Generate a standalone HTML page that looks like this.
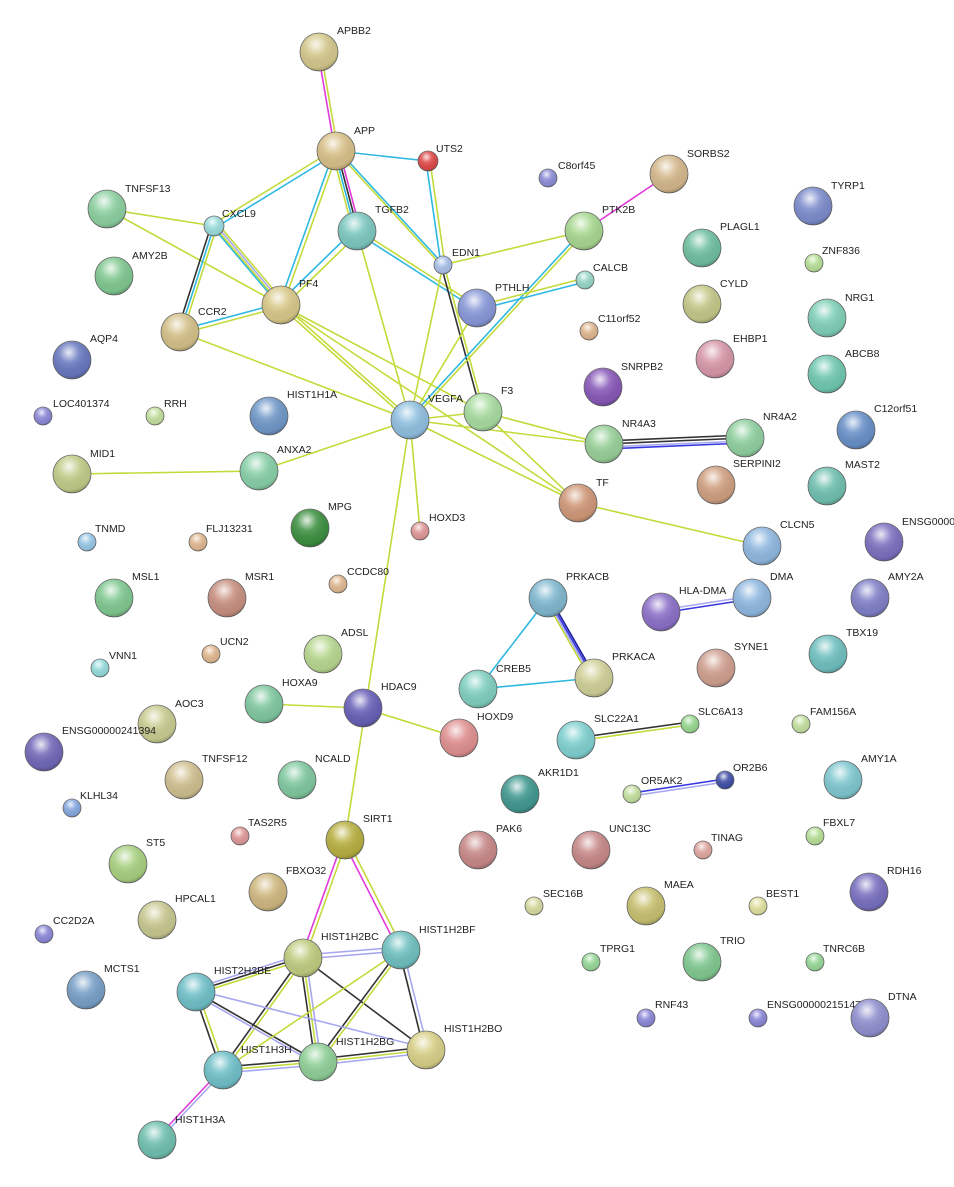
<!DOCTYPE html>
<html><head><meta charset="utf-8"><style>
html,body{margin:0;padding:0;background:#fff;}
svg{display:block;}
text{font-family:"Liberation Sans",sans-serif;font-size:10.5px;fill:#222;}
.y{stroke:#c4da3a;stroke-width:1.6;fill:none}
.c{stroke:#2fb8e0;stroke-width:1.6;fill:none}
.m{stroke:#e03ad8;stroke-width:1.6;fill:none}
.k{stroke:#333;stroke-width:1.6;fill:none}
.l{stroke:#a8a8f0;stroke-width:1.6;fill:none}
.b{stroke:#3838e0;stroke-width:1.6;fill:none}
.n{stroke:#666;stroke-width:0.8}
</style></head><body>
<svg width="954" height="1187" viewBox="0 0 954 1187" xmlns="http://www.w3.org/2000/svg">
<defs>
<radialGradient id="g" cx="0.42" cy="0.3" r="0.75">
<stop offset="0" stop-color="#fff" stop-opacity="0.85"/>
<stop offset="0.35" stop-color="#fff" stop-opacity="0.15"/>
<stop offset="0.8" stop-color="#000" stop-opacity="0.05"/>
<stop offset="1" stop-color="#000" stop-opacity="0.3"/>
</radialGradient>
</defs>
<g>
<line class="m" x1="318" y1="52" x2="335" y2="151"/><line class="y" x1="321" y1="52" x2="338" y2="151"/>
<line class="c" x1="336" y1="151" x2="428" y2="161"/>
<line class="y" x1="335" y1="149" x2="213" y2="224"/><line class="c" x1="337" y1="153" x2="215" y2="228"/>
<line class="c" x1="334" y1="151" x2="279" y2="305"/><line class="y" x1="338" y1="151" x2="283" y2="305"/>
<line class="y" x1="332" y1="151" x2="353" y2="231"/><line class="c" x1="334.5" y1="151" x2="355.5" y2="231"/><line class="k" x1="337" y1="151" x2="358" y2="231"/><line class="m" x1="339.5" y1="151" x2="360.5" y2="231"/>
<line class="y" x1="336" y1="151" x2="441" y2="265"/><line class="c" x1="338" y1="150" x2="443" y2="264"/>
<line class="c" x1="426" y1="161" x2="441" y2="265"/><line class="y" x1="430" y1="161" x2="445" y2="265"/>
<line class="y" x1="107" y1="209" x2="214" y2="226"/>
<line class="y" x1="107" y1="209" x2="281" y2="305"/>
<line class="k" x1="211" y1="226" x2="177" y2="332"/><line class="c" x1="214" y1="226" x2="180" y2="332"/><line class="y" x1="217" y1="226" x2="183" y2="332"/>
<line class="c" x1="212" y1="226" x2="279" y2="305"/><line class="y" x1="214" y1="226" x2="281" y2="305"/><line class="l" x1="216" y1="225" x2="283" y2="304"/><line class="y" x1="218" y1="224" x2="285" y2="303"/>
<line class="c" x1="355" y1="229" x2="279" y2="303"/><line class="y" x1="359" y1="233" x2="283" y2="307"/>
<line class="y" x1="357" y1="231" x2="410" y2="420"/>
<line class="y" x1="357" y1="229" x2="477" y2="306"/><line class="c" x1="357" y1="233" x2="477" y2="310"/>
<line class="c" x1="180" y1="330" x2="281" y2="303"/><line class="y" x1="180" y1="334" x2="281" y2="307"/>
<line class="y" x1="180" y1="332" x2="410" y2="420"/>
<line class="y" x1="281" y1="303" x2="410" y2="418"/><line class="y" x1="281" y1="307" x2="410" y2="422"/>
<line class="y" x1="281" y1="305" x2="483" y2="412"/>
<line class="y" x1="281" y1="305" x2="578" y2="503"/>
<line class="y" x1="443" y1="265" x2="584" y2="231"/>
<line class="k" x1="441" y1="265" x2="481" y2="412"/><line class="y" x1="444" y1="265" x2="484" y2="412"/>
<line class="y" x1="443" y1="265" x2="410" y2="420"/>
<line class="m" x1="584" y1="231" x2="669" y2="174"/>
<line class="c" x1="582" y1="231" x2="408" y2="420"/><line class="y" x1="586" y1="231" x2="412" y2="420"/>
<line class="y" x1="585" y1="278" x2="477" y2="306"/><line class="c" x1="585" y1="282" x2="477" y2="310"/>
<line class="y" x1="477" y1="308" x2="410" y2="420"/>
<line class="y" x1="410" y1="420" x2="483" y2="412"/>
<line class="y" x1="410" y1="420" x2="259" y2="471"/>
<line class="y" x1="410" y1="420" x2="604" y2="444"/>
<line class="y" x1="410" y1="420" x2="578" y2="503"/>
<line class="y" x1="410" y1="420" x2="420" y2="531"/>
<line class="y" x1="410" y1="420" x2="345" y2="840"/>
<line class="y" x1="483" y1="412" x2="578" y2="503"/>
<line class="y" x1="483" y1="412" x2="604" y2="444"/>
<line class="k" x1="604" y1="441" x2="745" y2="435"/><line class="k" x1="604" y1="444" x2="745" y2="438"/><line class="l" x1="604" y1="447" x2="745" y2="441"/><line class="b" x1="604" y1="449" x2="745" y2="443"/>
<line class="y" x1="578" y1="503" x2="762" y2="546"/>
<line class="y" x1="72" y1="474" x2="259" y2="471"/>
<line class="c" x1="548" y1="598" x2="478" y2="689"/>
<line class="y" x1="544" y1="598" x2="590" y2="678"/><line class="l" x1="546" y1="598" x2="592" y2="678"/><line class="b" x1="548" y1="598" x2="594" y2="678"/><line class="b" x1="550" y1="598" x2="596" y2="678" style="stroke:#2020a0"/>
<line class="c" x1="478" y1="689" x2="594" y2="678"/>
<line class="l" x1="661" y1="610" x2="752" y2="596"/><line class="b" x1="661" y1="613" x2="752" y2="599"/>
<line class="y" x1="264" y1="704" x2="363" y2="708"/>
<line class="y" x1="363" y1="708" x2="459" y2="738"/>
<line class="k" x1="576" y1="738" x2="690" y2="722"/><line class="y" x1="576" y1="741" x2="690" y2="725"/>
<line class="b" x1="632" y1="793" x2="725" y2="779"/><line class="l" x1="632" y1="796" x2="725" y2="782"/>
<line class="m" x1="343" y1="840" x2="301" y2="958"/><line class="y" x1="347" y1="840" x2="305" y2="958"/>
<line class="m" x1="343" y1="841" x2="399" y2="951"/><line class="y" x1="347" y1="839" x2="403" y2="949"/>
<line class="l" x1="303" y1="955" x2="401" y2="947"/><line class="l" x1="303" y1="959" x2="401" y2="951"/>
<line class="l" x1="196" y1="988" x2="303" y2="954"/><line class="k" x1="196" y1="991" x2="303" y2="957"/><line class="y" x1="196" y1="994" x2="303" y2="960"/>
<line class="k" x1="301" y1="958" x2="221" y2="1070"/><line class="y" x1="305" y1="958" x2="225" y2="1070"/>
<line class="k" x1="300" y1="958" x2="315" y2="1062"/><line class="y" x1="303" y1="958" x2="318" y2="1062"/><line class="l" x1="306" y1="958" x2="321" y2="1062"/>
<line class="k" x1="303" y1="958" x2="426" y2="1050"/>
<line class="k" x1="399" y1="950" x2="316" y2="1062"/><line class="y" x1="403" y1="950" x2="320" y2="1062"/>
<line class="k" x1="399" y1="950" x2="424" y2="1050"/><line class="l" x1="403" y1="950" x2="428" y2="1050"/>
<line class="k" x1="196" y1="992" x2="318" y2="1062"/><line class="l" x1="196" y1="995" x2="318" y2="1065"/>
<line class="l" x1="196" y1="990" x2="426" y2="1048"/>
<line class="k" x1="194" y1="992" x2="221" y2="1070"/><line class="y" x1="198" y1="992" x2="225" y2="1070"/>
<line class="k" x1="223" y1="1067" x2="318" y2="1059"/><line class="y" x1="223" y1="1070" x2="318" y2="1062"/><line class="l" x1="223" y1="1073" x2="318" y2="1065"/>
<line class="k" x1="318" y1="1059" x2="426" y2="1047"/><line class="y" x1="318" y1="1062" x2="426" y2="1050"/><line class="l" x1="318" y1="1065" x2="426" y2="1053"/>
<line class="y" x1="223" y1="1070" x2="401" y2="950"/>
<line class="m" x1="221" y1="1070" x2="155" y2="1140"/><line class="l" x1="225" y1="1070" x2="159" y2="1140"/>
</g>
<g>
<circle class="n" cx="319" cy="52" r="19" fill="#d4c88c"/><circle cx="319" cy="52" r="19" fill="url(#g)"/><text x="337" y="34">APBB2</text>
<circle class="n" cx="336" cy="151" r="19" fill="#d8c088"/><circle cx="336" cy="151" r="19" fill="url(#g)"/><text x="354" y="134">APP</text>
<circle class="n" cx="428" cy="161" r="10" fill="#e04848"/><circle cx="428" cy="161" r="10" fill="url(#g)"/><text x="436" y="152">UTS2</text>
<circle class="n" cx="548" cy="178" r="9" fill="#8c8cd8"/><circle cx="548" cy="178" r="9" fill="url(#g)"/><text x="558" y="169">C8orf45</text>
<circle class="n" cx="669" cy="174" r="19" fill="#d4b88c"/><circle cx="669" cy="174" r="19" fill="url(#g)"/><text x="687" y="157">SORBS2</text>
<circle class="n" cx="813" cy="206" r="19" fill="#7c8ccc"/><circle cx="813" cy="206" r="19" fill="url(#g)"/><text x="831" y="189">TYRP1</text>
<circle class="n" cx="107" cy="209" r="19" fill="#8cd0a0"/><circle cx="107" cy="209" r="19" fill="url(#g)"/><text x="125" y="192">TNFSF13</text>
<circle class="n" cx="214" cy="226" r="10" fill="#9cdcdc"/><circle cx="214" cy="226" r="10" fill="url(#g)"/><text x="222" y="217">CXCL9</text>
<circle class="n" cx="357" cy="231" r="19" fill="#7cc8c0"/><circle cx="357" cy="231" r="19" fill="url(#g)"/><text x="375" y="213">TGFB2</text>
<circle class="n" cx="584" cy="231" r="19" fill="#a8d890"/><circle cx="584" cy="231" r="19" fill="url(#g)"/><text x="602" y="213">PTK2B</text>
<circle class="n" cx="702" cy="248" r="19" fill="#70c0a0"/><circle cx="702" cy="248" r="19" fill="url(#g)"/><text x="720" y="230">PLAGL1</text>
<circle class="n" cx="814" cy="263" r="9" fill="#b8e098"/><circle cx="814" cy="263" r="9" fill="url(#g)"/><text x="822" y="254">ZNF836</text>
<circle class="n" cx="443" cy="265" r="9" fill="#a8c0e8"/><circle cx="443" cy="265" r="9" fill="url(#g)"/><text x="452" y="256">EDN1</text>
<circle class="n" cx="585" cy="280" r="9" fill="#98d8c8"/><circle cx="585" cy="280" r="9" fill="url(#g)"/><text x="593" y="271">CALCB</text>
<circle class="n" cx="114" cy="276" r="19" fill="#80c890"/><circle cx="114" cy="276" r="19" fill="url(#g)"/><text x="132" y="259">AMY2B</text>
<circle class="n" cx="281" cy="305" r="19" fill="#d8c888"/><circle cx="281" cy="305" r="19" fill="url(#g)"/><text x="299" y="287">PF4</text>
<circle class="n" cx="477" cy="308" r="19" fill="#8898d8"/><circle cx="477" cy="308" r="19" fill="url(#g)"/><text x="495" y="291">PTHLH</text>
<circle class="n" cx="702" cy="304" r="19" fill="#c4c888"/><circle cx="702" cy="304" r="19" fill="url(#g)"/><text x="720" y="287">CYLD</text>
<circle class="n" cx="827" cy="318" r="19" fill="#80d0b8"/><circle cx="827" cy="318" r="19" fill="url(#g)"/><text x="845" y="301">NRG1</text>
<circle class="n" cx="180" cy="332" r="19" fill="#d4c088"/><circle cx="180" cy="332" r="19" fill="url(#g)"/><text x="198" y="315">CCR2</text>
<circle class="n" cx="589" cy="331" r="9" fill="#e0b890"/><circle cx="589" cy="331" r="9" fill="url(#g)"/><text x="598" y="322">C11orf52</text>
<circle class="n" cx="72" cy="360" r="19" fill="#6878c0"/><circle cx="72" cy="360" r="19" fill="url(#g)"/><text x="90" y="342">AQP4</text>
<circle class="n" cx="715" cy="359" r="19" fill="#d898a8"/><circle cx="715" cy="359" r="19" fill="url(#g)"/><text x="733" y="342">EHBP1</text>
<circle class="n" cx="603" cy="387" r="19" fill="#8858b8"/><circle cx="603" cy="387" r="19" fill="url(#g)"/><text x="621" y="370">SNRPB2</text>
<circle class="n" cx="827" cy="374" r="19" fill="#70c8b0"/><circle cx="827" cy="374" r="19" fill="url(#g)"/><text x="845" y="357">ABCB8</text>
<circle class="n" cx="43" cy="416" r="9" fill="#8c88d8"/><circle cx="43" cy="416" r="9" fill="url(#g)"/><text x="53" y="407">LOC401374</text>
<circle class="n" cx="155" cy="416" r="9" fill="#c4e0a0"/><circle cx="155" cy="416" r="9" fill="url(#g)"/><text x="164" y="407">RRH</text>
<circle class="n" cx="269" cy="416" r="19" fill="#7098c8"/><circle cx="269" cy="416" r="19" fill="url(#g)"/><text x="287" y="398">HIST1H1A</text>
<circle class="n" cx="410" cy="420" r="19" fill="#90c0e0"/><circle cx="410" cy="420" r="19" fill="url(#g)"/><text x="428" y="402">VEGFA</text>
<circle class="n" cx="483" cy="412" r="19" fill="#a8dca0"/><circle cx="483" cy="412" r="19" fill="url(#g)"/><text x="501" y="394">F3</text>
<circle class="n" cx="604" cy="444" r="19" fill="#98d098"/><circle cx="604" cy="444" r="19" fill="url(#g)"/><text x="622" y="427">NR4A3</text>
<circle class="n" cx="745" cy="438" r="19" fill="#90d0a0"/><circle cx="745" cy="438" r="19" fill="url(#g)"/><text x="763" y="420">NR4A2</text>
<circle class="n" cx="856" cy="430" r="19" fill="#6890c8"/><circle cx="856" cy="430" r="19" fill="url(#g)"/><text x="874" y="412">C12orf51</text>
<circle class="n" cx="72" cy="474" r="19" fill="#c0cc88"/><circle cx="72" cy="474" r="19" fill="url(#g)"/><text x="90" y="457">MID1</text>
<circle class="n" cx="259" cy="471" r="19" fill="#88d0a8"/><circle cx="259" cy="471" r="19" fill="url(#g)"/><text x="277" y="453">ANXA2</text>
<circle class="n" cx="716" cy="485" r="19" fill="#d0a080"/><circle cx="716" cy="485" r="19" fill="url(#g)"/><text x="733" y="467">SERPINI2</text>
<circle class="n" cx="827" cy="486" r="19" fill="#70c0b0"/><circle cx="827" cy="486" r="19" fill="url(#g)"/><text x="845" y="468">MAST2</text>
<circle class="n" cx="578" cy="503" r="19" fill="#d09878"/><circle cx="578" cy="503" r="19" fill="url(#g)"/><text x="596" y="486">TF</text>
<circle class="n" cx="310" cy="528" r="19" fill="#3c9040"/><circle cx="310" cy="528" r="19" fill="url(#g)"/><text x="328" y="510">MPG</text>
<circle class="n" cx="420" cy="531" r="9" fill="#e09898"/><circle cx="420" cy="531" r="9" fill="url(#g)"/><text x="429" y="521">HOXD3</text>
<circle class="n" cx="884" cy="542" r="19" fill="#7c70c0"/><circle cx="884" cy="542" r="19" fill="url(#g)"/><text x="902" y="525">ENSG0000</text>
<circle class="n" cx="762" cy="546" r="19" fill="#90b8e0"/><circle cx="762" cy="546" r="19" fill="url(#g)"/><text x="780" y="528">CLCN5</text>
<circle class="n" cx="87" cy="542" r="9" fill="#98c8e8"/><circle cx="87" cy="542" r="9" fill="url(#g)"/><text x="95" y="532">TNMD</text>
<circle class="n" cx="198" cy="542" r="9" fill="#e0b890"/><circle cx="198" cy="542" r="9" fill="url(#g)"/><text x="206" y="532">FLJ13231</text>
<circle class="n" cx="338" cy="584" r="9" fill="#e0b890"/><circle cx="338" cy="584" r="9" fill="url(#g)"/><text x="347" y="575">CCDC80</text>
<circle class="n" cx="114" cy="598" r="19" fill="#80c890"/><circle cx="114" cy="598" r="19" fill="url(#g)"/><text x="132" y="580">MSL1</text>
<circle class="n" cx="227" cy="598" r="19" fill="#c89080"/><circle cx="227" cy="598" r="19" fill="url(#g)"/><text x="245" y="580">MSR1</text>
<circle class="n" cx="548" cy="598" r="19" fill="#80b8d0"/><circle cx="548" cy="598" r="19" fill="url(#g)"/><text x="566" y="580">PRKACB</text>
<circle class="n" cx="661" cy="612" r="19" fill="#8c70c8"/><circle cx="661" cy="612" r="19" fill="url(#g)"/><text x="679" y="594">HLA-DMA</text>
<circle class="n" cx="752" cy="598" r="19" fill="#90b8e0"/><circle cx="752" cy="598" r="19" fill="url(#g)"/><text x="770" y="580">DMA</text>
<circle class="n" cx="870" cy="598" r="19" fill="#8080c8"/><circle cx="870" cy="598" r="19" fill="url(#g)"/><text x="888" y="580">AMY2A</text>
<circle class="n" cx="828" cy="654" r="19" fill="#70c0c0"/><circle cx="828" cy="654" r="19" fill="url(#g)"/><text x="846" y="636">TBX19</text>
<circle class="n" cx="323" cy="654" r="19" fill="#b8d890"/><circle cx="323" cy="654" r="19" fill="url(#g)"/><text x="341" y="636">ADSL</text>
<circle class="n" cx="211" cy="654" r="9" fill="#e0b890"/><circle cx="211" cy="654" r="9" fill="url(#g)"/><text x="220" y="645">UCN2</text>
<circle class="n" cx="100" cy="668" r="9" fill="#98dcdc"/><circle cx="100" cy="668" r="9" fill="url(#g)"/><text x="109" y="659">VNN1</text>
<circle class="n" cx="716" cy="668" r="19" fill="#d0a090"/><circle cx="716" cy="668" r="19" fill="url(#g)"/><text x="734" y="650">SYNE1</text>
<circle class="n" cx="594" cy="678" r="19" fill="#d0d098"/><circle cx="594" cy="678" r="19" fill="url(#g)"/><text x="612" y="660">PRKACA</text>
<circle class="n" cx="478" cy="689" r="19" fill="#80d0c0"/><circle cx="478" cy="689" r="19" fill="url(#g)"/><text x="496" y="672">CREB5</text>
<circle class="n" cx="264" cy="704" r="19" fill="#80c8a0"/><circle cx="264" cy="704" r="19" fill="url(#g)"/><text x="282" y="686">HOXA9</text>
<circle class="n" cx="363" cy="708" r="19" fill="#6860b8"/><circle cx="363" cy="708" r="19" fill="url(#g)"/><text x="381" y="690">HDAC9</text>
<circle class="n" cx="157" cy="724" r="19" fill="#c8cc90"/><circle cx="157" cy="724" r="19" fill="url(#g)"/><text x="175" y="707">AOC3</text>
<circle class="n" cx="44" cy="752" r="19" fill="#7068b8"/><circle cx="44" cy="752" r="19" fill="url(#g)"/><text x="62" y="734">ENSG00000241394</text>
<circle class="n" cx="459" cy="738" r="19" fill="#e09090"/><circle cx="459" cy="738" r="19" fill="url(#g)"/><text x="477" y="720">HOXD9</text>
<circle class="n" cx="576" cy="740" r="19" fill="#80d0d0"/><circle cx="576" cy="740" r="19" fill="url(#g)"/><text x="594" y="722">SLC22A1</text>
<circle class="n" cx="690" cy="724" r="9" fill="#98d890"/><circle cx="690" cy="724" r="9" fill="url(#g)"/><text x="698" y="715">SLC6A13</text>
<circle class="n" cx="801" cy="724" r="9" fill="#c4e0a0"/><circle cx="801" cy="724" r="9" fill="url(#g)"/><text x="810" y="715">FAM156A</text>
<circle class="n" cx="843" cy="780" r="19" fill="#80c8d0"/><circle cx="843" cy="780" r="19" fill="url(#g)"/><text x="861" y="762">AMY1A</text>
<circle class="n" cx="184" cy="780" r="19" fill="#d0c090"/><circle cx="184" cy="780" r="19" fill="url(#g)"/><text x="202" y="762">TNFSF12</text>
<circle class="n" cx="297" cy="780" r="19" fill="#80c8a0"/><circle cx="297" cy="780" r="19" fill="url(#g)"/><text x="315" y="762">NCALD</text>
<circle class="n" cx="520" cy="794" r="19" fill="#409890"/><circle cx="520" cy="794" r="19" fill="url(#g)"/><text x="538" y="776">AKR1D1</text>
<circle class="n" cx="632" cy="794" r="9" fill="#c4e0a0"/><circle cx="632" cy="794" r="9" fill="url(#g)"/><text x="641" y="784">OR5AK2</text>
<circle class="n" cx="725" cy="780" r="9" fill="#4050a8"/><circle cx="725" cy="780" r="9" fill="url(#g)"/><text x="733" y="771">OR2B6</text>
<circle class="n" cx="72" cy="808" r="9" fill="#88a8e0"/><circle cx="72" cy="808" r="9" fill="url(#g)"/><text x="80" y="799">KLHL34</text>
<circle class="n" cx="240" cy="836" r="9" fill="#e09898"/><circle cx="240" cy="836" r="9" fill="url(#g)"/><text x="248" y="826">TAS2R5</text>
<circle class="n" cx="345" cy="840" r="19" fill="#b8b040"/><circle cx="345" cy="840" r="19" fill="url(#g)"/><text x="363" y="822">SIRT1</text>
<circle class="n" cx="128" cy="864" r="19" fill="#a8d080"/><circle cx="128" cy="864" r="19" fill="url(#g)"/><text x="146" y="846">ST5</text>
<circle class="n" cx="478" cy="850" r="19" fill="#c88888"/><circle cx="478" cy="850" r="19" fill="url(#g)"/><text x="496" y="832">PAK6</text>
<circle class="n" cx="591" cy="850" r="19" fill="#c88888"/><circle cx="591" cy="850" r="19" fill="url(#g)"/><text x="609" y="832">UNC13C</text>
<circle class="n" cx="703" cy="850" r="9" fill="#e0a8a0"/><circle cx="703" cy="850" r="9" fill="url(#g)"/><text x="711" y="841">TINAG</text>
<circle class="n" cx="815" cy="836" r="9" fill="#b8e098"/><circle cx="815" cy="836" r="9" fill="url(#g)"/><text x="823" y="826">FBXL7</text>
<circle class="n" cx="869" cy="892" r="19" fill="#7870c0"/><circle cx="869" cy="892" r="19" fill="url(#g)"/><text x="887" y="874">RDH16</text>
<circle class="n" cx="268" cy="892" r="19" fill="#d0b880"/><circle cx="268" cy="892" r="19" fill="url(#g)"/><text x="286" y="874">FBXO32</text>
<circle class="n" cx="646" cy="906" r="19" fill="#c8c070"/><circle cx="646" cy="906" r="19" fill="url(#g)"/><text x="664" y="888">MAEA</text>
<circle class="n" cx="534" cy="906" r="9" fill="#d8dca0"/><circle cx="534" cy="906" r="9" fill="url(#g)"/><text x="543" y="897">SEC16B</text>
<circle class="n" cx="758" cy="906" r="9" fill="#e0e0a0"/><circle cx="758" cy="906" r="9" fill="url(#g)"/><text x="766" y="897">BEST1</text>
<circle class="n" cx="157" cy="920" r="19" fill="#c8c890"/><circle cx="157" cy="920" r="19" fill="url(#g)"/><text x="175" y="902">HPCAL1</text>
<circle class="n" cx="44" cy="934" r="9" fill="#8c88d8"/><circle cx="44" cy="934" r="9" fill="url(#g)"/><text x="53" y="924">CC2D2A</text>
<circle class="n" cx="303" cy="958" r="19" fill="#c0cc80"/><circle cx="303" cy="958" r="19" fill="url(#g)"/><text x="321" y="940">HIST1H2BC</text>
<circle class="n" cx="401" cy="950" r="19" fill="#70c0c0"/><circle cx="401" cy="950" r="19" fill="url(#g)"/><text x="419" y="933">HIST1H2BF</text>
<circle class="n" cx="702" cy="962" r="19" fill="#80c890"/><circle cx="702" cy="962" r="19" fill="url(#g)"/><text x="720" y="944">TRIO</text>
<circle class="n" cx="591" cy="962" r="9" fill="#98d898"/><circle cx="591" cy="962" r="9" fill="url(#g)"/><text x="600" y="952">TPRG1</text>
<circle class="n" cx="815" cy="962" r="9" fill="#98d898"/><circle cx="815" cy="962" r="9" fill="url(#g)"/><text x="823" y="952">TNRC6B</text>
<circle class="n" cx="196" cy="992" r="19" fill="#70c0c8"/><circle cx="196" cy="992" r="19" fill="url(#g)"/><text x="214" y="974">HIST2H2BE</text>
<circle class="n" cx="86" cy="990" r="19" fill="#78a0c8"/><circle cx="86" cy="990" r="19" fill="url(#g)"/><text x="104" y="972">MCTS1</text>
<circle class="n" cx="646" cy="1018" r="9" fill="#8c88d8"/><circle cx="646" cy="1018" r="9" fill="url(#g)"/><text x="655" y="1008">RNF43</text>
<circle class="n" cx="758" cy="1018" r="9" fill="#8c88d8"/><circle cx="758" cy="1018" r="9" fill="url(#g)"/><text x="767" y="1008">ENSG00000215147</text>
<circle class="n" cx="870" cy="1018" r="19" fill="#9090d0"/><circle cx="870" cy="1018" r="19" fill="url(#g)"/><text x="888" y="1000">DTNA</text>
<circle class="n" cx="426" cy="1050" r="19" fill="#d8d088"/><circle cx="426" cy="1050" r="19" fill="url(#g)"/><text x="444" y="1032">HIST1H2BO</text>
<circle class="n" cx="223" cy="1070" r="19" fill="#70c0c8"/><circle cx="223" cy="1070" r="19" fill="url(#g)"/><text x="241" y="1053">HIST1H3H</text>
<circle class="n" cx="318" cy="1062" r="19" fill="#90d098"/><circle cx="318" cy="1062" r="19" fill="url(#g)"/><text x="336" y="1045">HIST1H2BG</text>
<circle class="n" cx="157" cy="1140" r="19" fill="#70c0b0"/><circle cx="157" cy="1140" r="19" fill="url(#g)"/><text x="175" y="1123">HIST1H3A</text>
</g>
</svg>
</body></html>
